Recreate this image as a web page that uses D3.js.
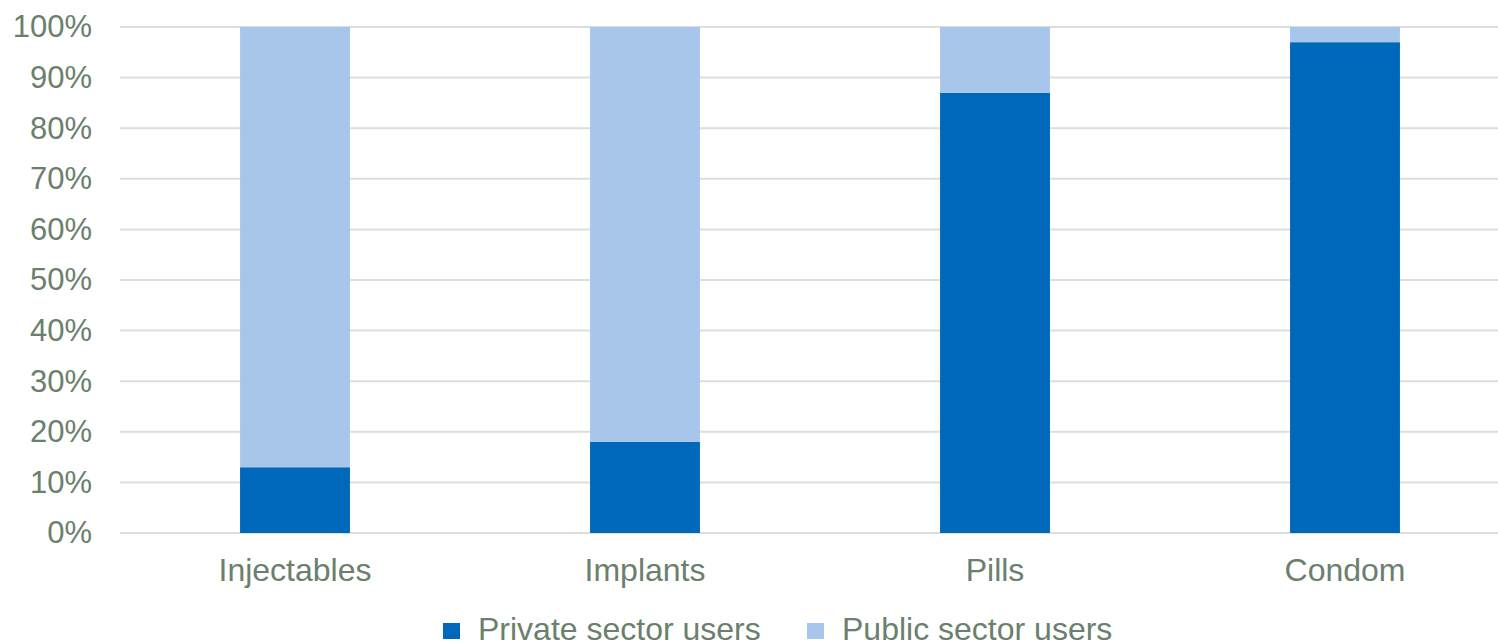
<!DOCTYPE html>
<html>
<head>
<meta charset="utf-8">
<script src="https://cdn.jsdelivr.net/npm/d3@7"></script>
<style>
  body { margin: 0; background: #fff; }
  text { font-family: "Liberation Sans", Arial, sans-serif; }
</style>
</head>
<body>
<div id="chart"></div>
<script>
// data
const categories = ["Injectables", "Implants", "Pills", "Condom"];
const privateUsers = [13, 18, 87, 97];
const publicUsers = [87, 82, 13, 3];
const seriesNames = ["Private sector users", "Public sector users"];
const yTicks = [0, 10, 20, 30, 40, 50, 60, 70, 80, 90, 100];

const colors = ["#0068BA", "#A8C6EC"];
const textColor = "#6B806C";

let svg = d3.select("#chart").append("svg")
    .attr("width", 1498)
    .attr("height", 644);

// scales
let x = d3.scaleBand().domain(categories).range([120, 1520]).paddingInner(0.686).paddingOuter(0.343),
  y = d3.scaleLinear().domain([0, 100]).range([533, 27]);

// gridlines
svg.append("g")
  .selectAll("line")
  .data(yTicks)
  .enter()
  .append("line")
  .attr("x1", 120)
  .attr("x2", 1520)
  .attr("y1", (d) => y(d))
  .attr("y2", (d) => y(d))
  .attr("stroke", "#DADFDA")
  .attr("stroke-width", 2);

// y axis labels
let yAxis = svg.append("g")
  .attr("transform", "translate(92,0)")
  .call(d3.axisLeft(y).tickValues(yTicks).tickFormat((d) => d + "%").tickSize(0).tickPadding(0));
yAxis.select(".domain").remove();
yAxis.selectAll("text")
  .attr("fill", textColor)
  .style("font-size", "31px")
  .style("font-family", "'Liberation Sans', Arial, sans-serif");

// stacked bars
let stackData = categories.map((c, i) => ({ cat: c, priv: privateUsers[i], pub: publicUsers[i] }));
let stack = d3.stack().keys(["priv", "pub"])(stackData);

svg.append("g")
  .selectAll("g")
  .data(stack)
  .enter()
  .append("g")
  .attr("fill", (d, i) => colors[i])
  .selectAll("rect")
  .data((d) => d)
  .enter()
  .append("rect")
  .attr("x", (d) => x(d.data.cat))
  .attr("width", x.bandwidth())
  .attr("y", (d) => y(d[1]))
  .attr("height", (d) => y(d[0]) - y(d[1]));

// x axis labels
let xAxis = svg.append("g")
  .attr("transform", "translate(0,581)")
  .call(d3.axisBottom(x).tickSize(0).tickPadding(0));
xAxis.select(".domain").remove();
xAxis.selectAll("text")
  .attr("fill", textColor)
  .attr("y", 0)
  .attr("dy", 0)
  .style("font-size", "32px")
  .style("font-family", "'Liberation Sans', Arial, sans-serif");

// legend
let legendX = [443, 807];
let legend = svg.append("g")
  .selectAll("g")
  .data(seriesNames)
  .enter()
  .append("g")
  .attr("transform", (d, i) => "translate(" + legendX[i] + ",0)");

legend.append("rect")
  .attr("x", 0)
  .attr("y", 623)
  .attr("width", 17)
  .attr("height", 16)
  .attr("fill", (d, i) => colors[i]);

legend.append("text")
  .attr("x", 35)
  .attr("y", 640)
  .attr("fill", textColor)
  .style("font-size", "32px")
  .text((d) => d);
</script>
</body>
</html>
